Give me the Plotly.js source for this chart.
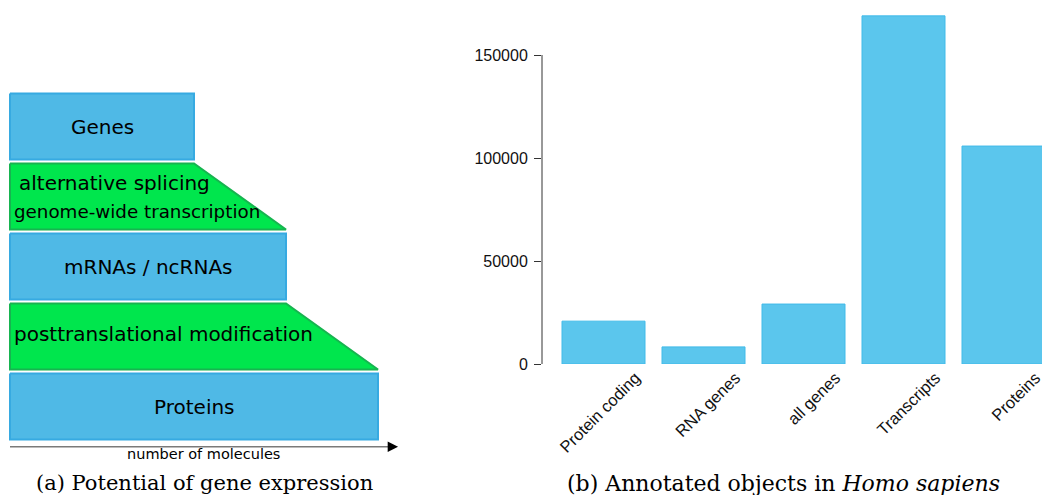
<!DOCTYPE html>
<html>
<head>
<meta charset="utf-8">
<script src="https://cdn.plot.ly/plotly-3.0.1.min.js"></script>
<style>html,body{margin:0;padding:0;background:#fff;}#chart{width:1042px;height:495px;}</style>
</head>
<body>
<div id="chart"></div>
<script>
// ---- Panel (b): annotated objects in Homo sapiens ----
const categories = ['Protein coding', 'RNA genes', 'all genes', 'Transcripts', 'Proteins'];
const counts = [20800, 8300, 29100, 169000, 105800];
const yTicks = [0, 50000, 100000, 150000];

// ---- Panel (a): potential of gene expression ----
const levels = ['Genes', 'mRNAs / ncRNAs', 'Proteins'];
const levelSize = [1, 1.5, 2];              // relative number of molecules
const processes = [['alternative splicing', 'genome-wide transcription'], ['posttranslational modification']];
const axisLabel = 'number of molecules';
const captionA = '(a) Potential of gene expression';
const captionB = '(b) Annotated objects in <i>Homo sapiens</i>';

const W = 1042, H = 495;
const blueFill = '#4fb9e6', blueLine = '#37aae1';
const greenFill = '#00e64d', greenLine = '#17b450';
const half = 0.471;
const sansDiag = 'DejaVu Sans, Verdana, sans-serif';
const serif = 'DejaVu Serif, Liberation Serif, serif';

const traces = [];
const annotations = [];

// diagram rows: level, process, level, process, level
levels.forEach((name, i) => {
  const r = 2 * i, s = levelSize[i];
  traces.push({
    type: 'scatter', mode: 'lines', xaxis: 'x2', yaxis: 'y2',
    x: [0, s, s, 0, 0], y: [r - half, r - half, r + half, r + half, r - half],
    fill: 'toself', fillcolor: blueFill, line: {color: blueLine, width: 2},
    hoverinfo: 'skip', showlegend: false
  });
  annotations.push({xref: 'x2', yref: 'y2', x: s / 2, y: r, text: name, showarrow: false,
    font: {family: sansDiag, size: 20, color: '#000'}});
  if (i < processes.length) {
    const rp = r + 1, s2 = levelSize[i + 1];
    traces.push({
      type: 'scatter', mode: 'lines', xaxis: 'x2', yaxis: 'y2',
      x: [0, s, s2, 0, 0], y: [rp - half, rp - half, rp + half, rp + half, rp - half],
      fill: 'toself', fillcolor: greenFill, line: {color: greenLine, width: 2},
      hoverinfo: 'skip', showlegend: false
    });
    const labs = processes[i];
    if (labs.length === 2) {
      annotations.push({xref: 'x2', yref: 'y2', x: 0.04, y: rp - 0.19, xanchor: 'left', text: labs[0], showarrow: false,
        font: {family: sansDiag, size: 20, color: '#000'}});
      annotations.push({xref: 'x2', yref: 'y2', x: 0.012, y: rp + 0.22, xanchor: 'left', text: labs[1], showarrow: false,
        font: {family: sansDiag, size: 18.3, color: '#000'}});
    } else {
      annotations.push({xref: 'x2', yref: 'y2', x: 0.012, y: rp - 0.03, xanchor: 'left', text: labs[0], showarrow: false,
        font: {family: sansDiag, size: 20, color: '#000'}});
    }
  }
});

// molecules axis arrow
const arrowY = 4.574, arrowEnd = 2.109;
traces.push({type: 'scatter', mode: 'lines', xaxis: 'x2', yaxis: 'y2', x: [0, arrowEnd - 0.04], y: [arrowY, arrowY],
  line: {color: '#7a7a7a', width: 1.5}, hoverinfo: 'skip', showlegend: false});
annotations.push({xref: 'x2', yref: 'y2', axref: 'x2', ayref: 'y2', x: arrowEnd, y: arrowY, ax: arrowEnd - 0.06, ay: arrowY,
  text: '', showarrow: true, arrowhead: 2, arrowsize: 1.3, arrowwidth: 1.6, arrowcolor: '#000'});
annotations.push({xref: 'x2', yref: 'y2', x: levelSize[2] * 0.525, y: arrowY + 0.11, yanchor: 'middle', text: axisLabel, showarrow: false,
  font: {family: sansDiag, size: 14.5, color: '#000'}});

// bar chart
traces.push({
  type: 'bar', x: categories, y: counts, xaxis: 'x', yaxis: 'y',
  marker: {color: '#5bc6ed', line: {color: '#41bbe9', width: 1}},
  hoverinfo: 'x+y', showlegend: false
});

// captions
annotations.push({xref: 'paper', yref: 'paper', x: 204 / W, y: 1 - 483 / H, xanchor: 'center', yanchor: 'middle',
  text: captionA, showarrow: false, font: {family: serif, size: 21, color: '#000'}});
annotations.push({xref: 'paper', yref: 'paper', x: 783 / W, y: 1 - 483 / H, xanchor: 'center', yanchor: 'middle',
  text: captionB, showarrow: false, font: {family: serif, size: 22, color: '#000'}});

const layout = {
  width: W, height: H,
  margin: {l: 0, r: 0, t: 0, b: 0},
  paper_bgcolor: '#fff', plot_bgcolor: 'rgba(0,0,0,0)',
  showlegend: false,
  bargap: 0.17,
  xaxis: {
    domain: [542 / W, 1], range: [-0.615, 4.385], type: 'category',
    showline: false, showgrid: false, zeroline: false, ticks: '',
    tickangle: -45, ticklabelshift: 32,
    tickfont: {family: 'Liberation Sans, Arial, sans-serif', size: 16.5, color: '#111'}
  },
  yaxis: {
    domain: [131 / H, 1 - 9.68 / H], range: [0, 172000],
    showline: false, showgrid: false, zeroline: false,
    tickmode: 'array', tickvals: yTicks, ticktext: yTicks.map(String),
    ticks: 'outside', ticklen: 7, tickcolor: '#333', tickwidth: 1, ticklabelstandoff: 3,
    tickfont: {family: 'Liberation Sans, Arial, sans-serif', size: 16, color: '#111'}
  },
  xaxis2: {domain: [0, 0.45], range: [-10 / 184, (0.45 * W - 10) / 184], visible: false, fixedrange: true, anchor: 'y2'},
  yaxis2: {domain: [0, 1], range: [(H - 126.5) / 70, -126.5 / 70], visible: false, fixedrange: true, anchor: 'x2'},
  shapes: [{type: 'line', xref: 'x domain', yref: 'y', x0: 0, x1: 0, y0: yTicks[0], y1: yTicks[yTicks.length - 1],
    line: {color: '#333', width: 1}}],
  annotations: annotations
};

Plotly.newPlot('chart', traces, layout, {displayModeBar: false, staticPlot: true});
</script>
</body>
</html>
